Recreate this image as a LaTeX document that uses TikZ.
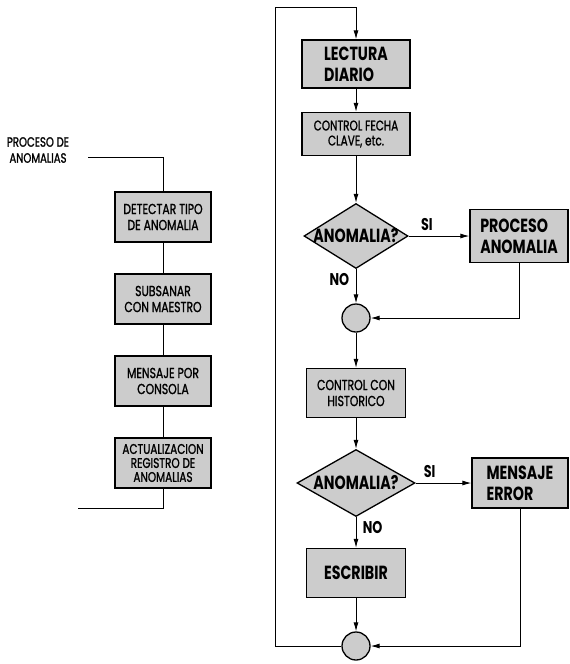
\documentclass[tikz,border=0pt]{standalone}
\usepackage{fontspec}
\setmainfont{Poppins}[FakeStretch=0.75]
\newfontfamily\boxfont{Poppins}[FakeStretch=0.75,FakeBold=1.2]
\usetikzlibrary{arrows.meta,shapes.geometric}

\begin{document}
\begin{tikzpicture}[x=1pt,y=-1pt,>={Latex[length=9pt,width=5pt]},node distance=82pt,
    line width=0.9pt,
    box/.style={draw,fill=black!20,line width=1.3pt,minimum width=96pt,minimum height=50pt,
        align=center,inner sep=2pt,font=\boxfont\fontsize{14.5}{16}\selectfont},
    bigbox/.style={box,align=left,font=\normalfont\fontsize{19}{21}\selectfont\bfseries},
    decision/.style={diamond,draw,fill=black!20,line width=1.3pt,inner sep=0pt},
    junction/.style={circle,draw,fill=black!20,line width=1.3pt,minimum size=28pt,inner sep=0pt},
    tag/.style={font=\fontsize{17}{19}\selectfont\bfseries}]
        \useasboundingbox (0,0) rectangle (570,664);

        % rutina de anomalias
        \node[align=center,font=\boxfont\fontsize{13.5}{16}\selectfont] (pa) at (38,150) {PROCESO DE\\ANOMALIAS};
        \node[box]                (det)                  at (163,217) {DETECTAR TIPO\\DE ANOMALIA};
        \node[box]                (sub)  [below of=det]  {SUBSANAR\\CON MAESTRO};
        \node[box]                (cons) [below of=sub]  {MENSAJE POR\\CONSOLA};
        \node[box,font=\boxfont\fontsize{14}{14}\selectfont] (act) [below of=cons] {ACTUALIZACION\\REGISTRO DE\\ANOMALIAS};
        \coordinate (pin)  at (88,157);
        \coordinate (pout) at (78,508);

        \draw (pin) -| (det.north);
        \path (det) edge (sub)
        (sub) edge (cons)
        (cons) edge (act);
        \draw (act.south) |- (pout);

        % programa principal
        \node[bigbox,minimum width=108pt,minimum height=48pt] (lect) at (356,64) {LECTURA\\DIARIO};
        \node[box,minimum width=108pt,minimum height=43pt,font=\boxfont\fontsize{14}{15}\selectfont]
            (fecha) [below of=lect,node distance=70pt] {CONTROL FECHA\\CLAVE, etc.};
        \node[decision,minimum width=104pt,minimum height=65pt] (anom1) [below of=fecha,node distance=102pt] {};
        \node[font=\fontsize{19}{21}\selectfont\bfseries] (q1) at (anom1) {ANOMALIA?};
        \node[bigbox,minimum width=98pt,minimum height=53pt] (proc) [right of=anom1,node distance=163pt] {PROCESO\\ANOMALIA};
        \node[junction]           (j1)   [below of=anom1] {};
        \node[box,minimum width=99pt,minimum height=49pt] (hist) [below of=j1,node distance=75pt] {CONTROL CON\\HISTORICO};
        \node[decision,minimum width=118pt,minimum height=67pt] (anom2) [below of=hist,node distance=90pt] {};
        \node[font=\fontsize{19}{21}\selectfont\bfseries] (q2) at (anom2) {ANOMALIA?};
        \node[bigbox,minimum width=96pt,minimum height=50pt] (msg) [right of=anom2,node distance=164pt] {MENSAJE\\ERROR};
        \node[bigbox,minimum width=99pt,minimum height=49pt] (escr) [below of=anom2,node distance=90pt] {ESCRIBIR};
        \node[junction]           (j2)   [below of=escr,node distance=73pt] {};
        \coordinate (back) at (275,7);

        \path[->] (lect) edge (fecha)
        (fecha) edge (anom1)
        (anom1) edge node[tag,above=2pt,pos=0.3,name=si1] {SI} (proc)
        edge node[tag,left=3pt,pos=0.3,name=no1] {NO} (j1)
        (j1) edge (hist)
        (hist) edge (anom2)
        (anom2) edge node[tag,above=2pt,pos=0.25,name=si2] {SI} (msg)
        edge node[tag,right=3pt,pos=0.35,name=no2] {NO} (escr)
        (escr) edge (j2);
        \draw[->] (proc.south) |- (j1.east);
        \draw[->] (msg.south) |- (j2.east);
        \draw[->] (j2.west) -| (back) -| (lect.north);
    \end{tikzpicture}
\end{document}
